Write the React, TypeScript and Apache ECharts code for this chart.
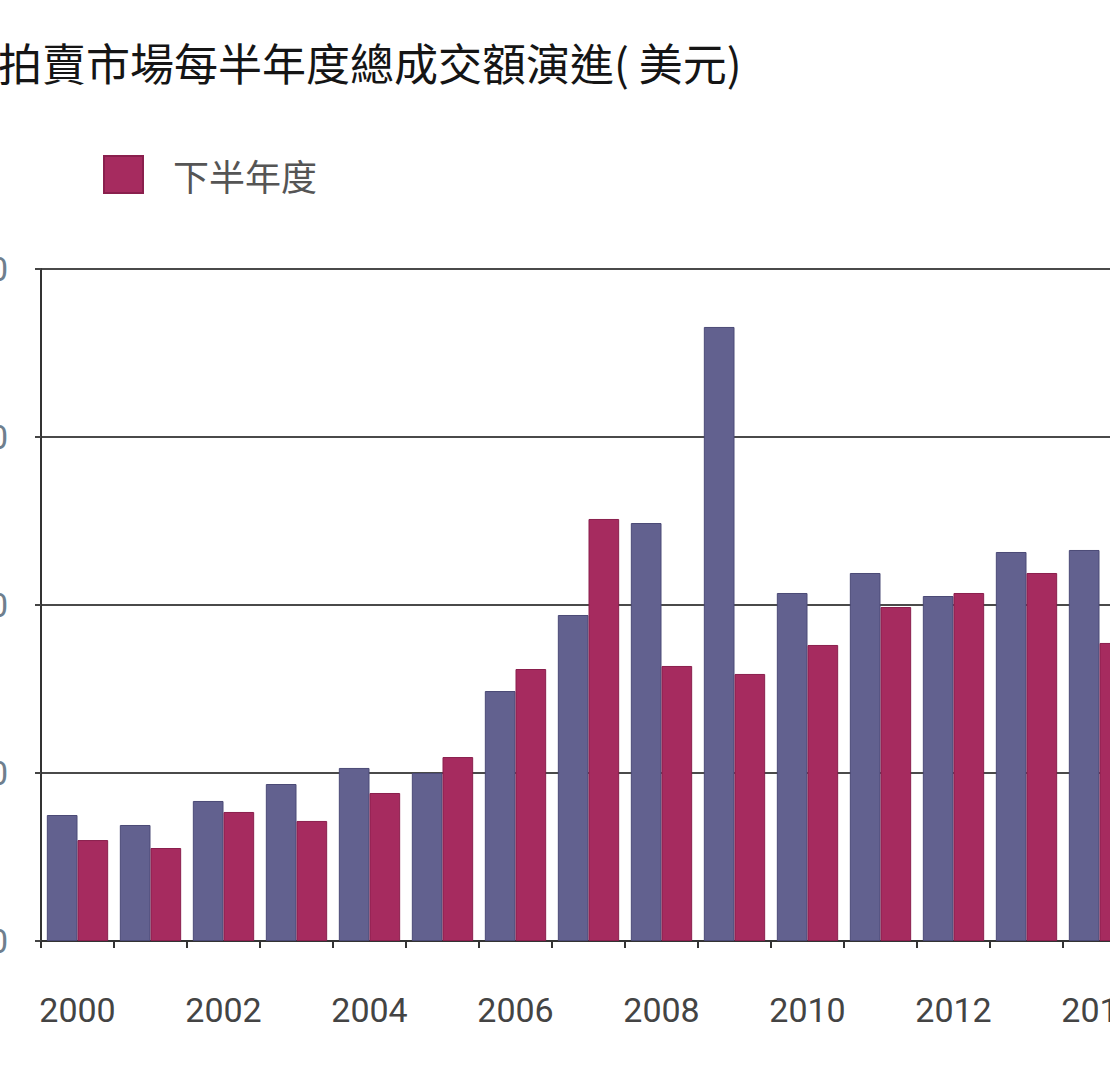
import React, { useEffect, useRef } from "react";
import * as echarts from "echarts";

const years = ["2000","2001","2002","2003","2004","2005","2006","2007","2008","2009","2010","2011","2012","2013","2014"];
const firstHalf = [1500,1381,1667,1869,2060,2000,2976,3881,4976,7310,4143,4381,4107,4631,4655];
const secondHalf = [1202,1107,1536,1429,1762,2190,3238,5024,3274,3179,3524,3976,4143,4381,3548];
const yTicks = { min: 0, max: 8000, interval: 2000 };
const titleText = "拍賣市場每半年度總成交額演進( 美元)";
const seriesNames = ["上半年度", "下半年度"];

const OFFSET = 100;

export default function App() {
  const ref = useRef<HTMLDivElement>(null);
  useEffect(() => {
    if (!ref.current) return;
    const chart = echarts.init(ref.current, undefined, { renderer: "svg" });
    chart.setOption({
      animation: false,
      backgroundColor: "#ffffff",
      title: {
        text: titleText,
        left: OFFSET - 2,
        top: 40,
        padding: 0,
        textStyle: { fontFamily: "Noto Sans CJK TC", fontSize: 44, fontWeight: "normal", color: "#151515" },
      },
      legend: {
        data: [seriesNames[1]],
        left: OFFSET + 103,
        top: 155,
        padding: 0,
        itemWidth: 39,
        itemHeight: 37,
        icon: "rect",
        textStyle: { fontFamily: "Noto Sans CJK TC", fontSize: 36, color: "#555555", padding: [0, 0, 0, 25] },
      },
      grid: { left: OFFSET + 41, top: 269, bottom: 124, width: 73 * 15 },
      xAxis: {
        type: "category",
        data: years,
        axisLine: { lineStyle: { color: "#333333", width: 2 } },
        axisTick: { show: true, interval: 0, length: 7, lineStyle: { color: "#333333", width: 2 } },
        axisLabel: { interval: 1, margin: 52, fontFamily: "Roboto", fontSize: 34, color: "#444444" },
      },
      yAxis: {
        type: "value",
        min: yTicks.min,
        max: yTicks.max,
        interval: yTicks.interval,
        axisLine: { show: true, lineStyle: { color: "#333333", width: 2 } },
        axisTick: { show: true, length: 6, lineStyle: { color: "#444444", width: 2 } },
        axisLabel: { margin: 33, fontFamily: "Roboto", fontSize: 34, color: "#6f7f8e" },
        splitLine: { show: true, lineStyle: { color: "#4a4a4a", width: 2 } },
      },
      series: [
        {
          name: seriesNames[0],
          type: "bar",
          data: firstHalf,
          barGap: "0%",
          barCategoryGap: "16%",
          itemStyle: { color: "#62618f", borderColor: "#4b4a76", borderWidth: 1 },
        },
        {
          name: seriesNames[1],
          type: "bar",
          data: secondHalf,
          barGap: "0%",
          barCategoryGap: "16%",
          itemStyle: { color: "#a62b5f", borderColor: "#8a1f4d", borderWidth: 1 },
        },
      ],
    });
    return () => chart.dispose();
  }, []);
  return (
    <div style={{ position: "fixed", left: 0, top: 0, width: 1110, height: 1065, overflow: "hidden", background: "#fff" }}>
      <div ref={ref} style={{ position: "absolute", left: -OFFSET, top: 0, width: 1350, height: 1065 }} />
    </div>
  );
}
